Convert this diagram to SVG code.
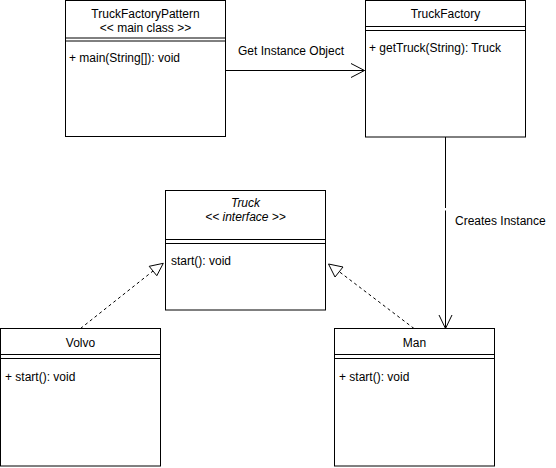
<svg xmlns="http://www.w3.org/2000/svg" width="556" height="468" viewBox="0 0 556 468">
<style>
.box{fill:#fff;stroke:#000;stroke-width:1}
.ln{stroke:#000;stroke-width:1;fill:none}
text{font-family:"Liberation Sans",Arial,sans-serif;font-size:12px;fill:#000}
.c{text-anchor:middle}
.i{font-style:italic}
.dash{stroke:#000;stroke-width:1;fill:none;stroke-dasharray:3 3}
</style>
<rect width="556" height="468" fill="#fff"/>
<g id="connectors">
  <path class="ln" d="M225.5 70.5 H364.5"/>
  <path class="ln" d="M351 63.5 L364.5 70.5 L351 77.5"/>
  <text x="291" y="55" class="c">Get Instance Object</text>
  <path class="ln" d="M445.5 137 V328.5"/>
  <path class="ln" d="M439 315 L445.5 328.5 L452 315"/>
  <rect x="444" y="208" width="3" height="2.5" fill="#fff"/>
  <text x="455" y="225">Creates Instance</text>
  <path class="dash" d="M80.5 328.5 L153 271"/>
  <path class="ln" d="M163.3 263.3 L156.8 275.7 L149.2 266.3 Z"/>
  <path class="dash" d="M414 328.5 L339 271.5"/>
  <path class="ln" d="M328.5 264 L343 267 L335 277 Z"/>
</g>
<g id="TruckFactoryPattern">
  <rect class="box" x="65.5" y="0.5" width="160" height="136"/>
  <path class="ln" d="M65.5 38 H225.5 M65.5 41 H225.5"/>
  <text x="145.5" y="18" class="c">TruckFactoryPattern</text>
  <text x="145.5" y="32" class="c">&lt;&lt; main class &gt;&gt;</text>
  <text x="69" y="62">+ main(String[]): void</text>
</g>
<g id="TruckFactory">
  <rect class="box" x="365.5" y="0.5" width="160" height="136.5"/>
  <path class="ln" d="M365.5 26.5 H525.5 M365.5 30.5 H525.5"/>
  <text x="445.5" y="18" class="c">TruckFactory</text>
  <text x="369" y="52">+ getTruck(String): Truck</text>
</g>
<g id="Truck">
  <rect class="box" x="165.5" y="190.5" width="160" height="119.5"/>
  <path class="ln" d="M165.5 239.5 H325.5 M165.5 243.5 H325.5"/>
  <text x="245.5" y="207" class="c i">Truck</text>
  <text x="245.5" y="221" class="c i">&lt;&lt; interface &gt;&gt;</text>
  <text x="171" y="265">start(): void</text>
</g>
<g id="Volvo">
  <rect class="box" x="0.5" y="328.5" width="160" height="137.5"/>
  <path class="ln" d="M0.5 354.5 H160.5 M0.5 358.5 H160.5"/>
  <text x="80.5" y="347" class="c">Volvo</text>
  <text x="5" y="381">+ start(): void</text>
</g>
<g id="Man">
  <rect class="box" x="334.5" y="328.5" width="160" height="137.5"/>
  <path class="ln" d="M334.5 354.5 H494.5 M334.5 358.5 H494.5"/>
  <text x="414.5" y="347" class="c">Man</text>
  <text x="339" y="381">+ start(): void</text>
</g>
</svg>
